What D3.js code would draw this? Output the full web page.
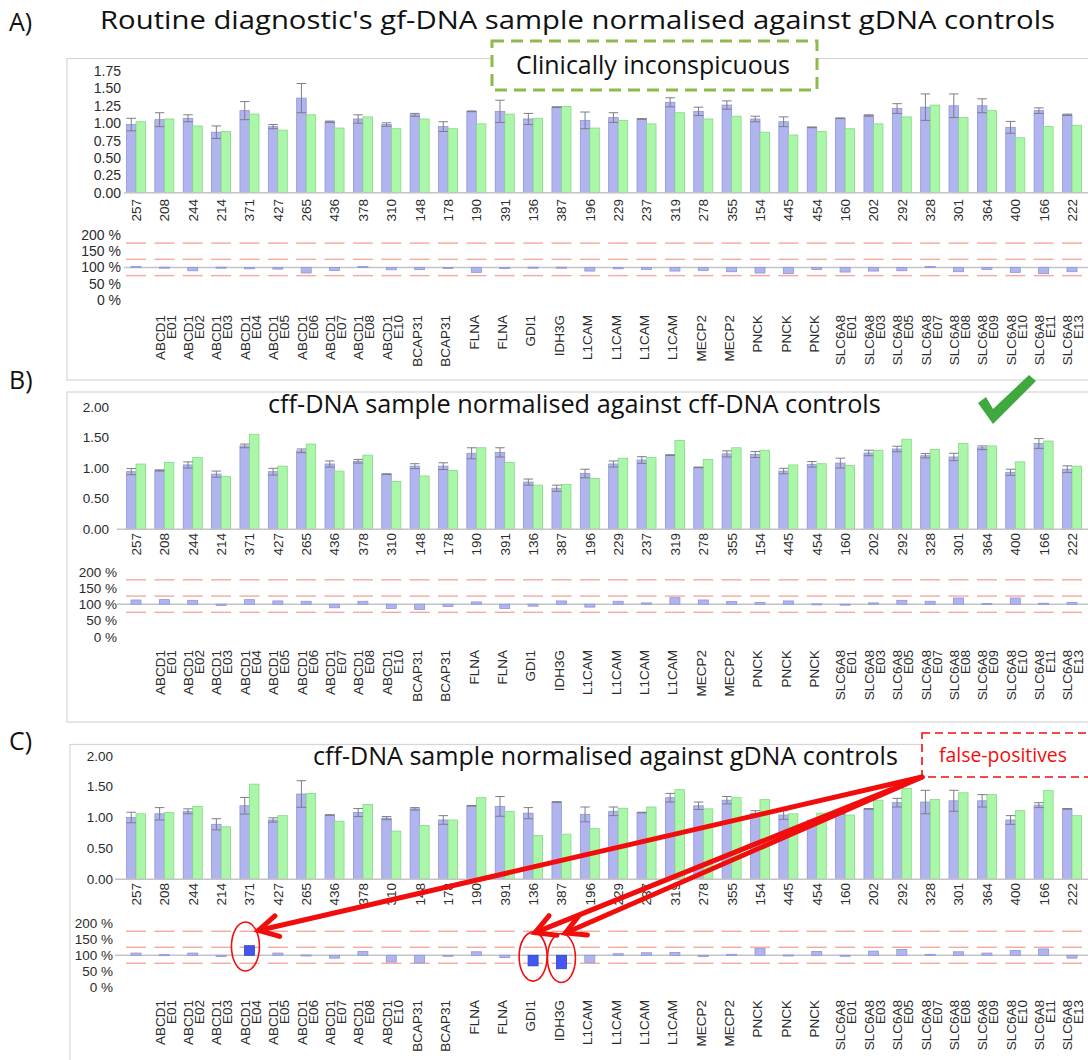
<!DOCTYPE html>
<html>
<head>
<meta charset="utf-8">
<script src="https://cdn.jsdelivr.net/npm/d3@7"></script>
<style>
  html, body { margin: 0; padding: 0; background: #fff; }
  svg { display: block; }
</style>
</head>
<body>
<svg id="chart" width="1088" height="1060"></svg>
<script>
// ---- probe identifiers and gene/exon names ----
const categories = ["257","208","244","214","371","427","265","436","378","310","148","178","190","391","136","387","196",
  "229","237","319","278","355","154","445","454","160","202","292","328","301","364","400","166","222"];
const geneLabels = ["",
  "ABCD1\nE01","ABCD1\nE02","ABCD1\nE03","ABCD1\nE04","ABCD1\nE05","ABCD1\nE06","ABCD1\nE07","ABCD1\nE08","ABCD1\nE10",
  "BCAP31","BCAP31","FLNA","FLNA","GDI1","IDH3G","L1CAM","L1CAM","L1CAM","L1CAM","MECP2","MECP2","PNCK","PNCK","PNCK",
  "SLC6A8\nE01","SLC6A8\nE03","SLC6A8\nE05","SLC6A8\nE07","SLC6A8\nE08","SLC6A8\nE09","SLC6A8\nE10","SLC6A8\nE11","SLC6A8\nE13"];

// ---- A) gf-DNA sample vs gDNA controls ----
const aReference = [0.98,1.05,1.07,0.87,1.18,0.95,1.36,1.02,1.06,0.98,1.12,0.95,1.17,1.17,1.06,1.23,1.04,
  1.08,1.06,1.30,1.17,1.26,1.06,1.02,0.94,1.07,1.11,1.21,1.23,1.25,1.25,0.94,1.18,1.12];
const aReferenceSd = [0.09,0.10,0.05,0.09,0.13,0.03,0.21,0.01,0.06,0.025,0.02,0.07,0.005,0.16,0.08,0.005,0.12,
  0.07,0.005,0.065,0.06,0.06,0.04,0.07,0.005,0.005,0.01,0.07,0.19,0.17,0.10,0.085,0.04,0.01];
const aSample = [1.02,1.06,0.96,0.88,1.13,0.90,1.12,0.93,1.09,0.92,1.06,0.92,0.99,1.13,1.07,1.24,0.93,
  1.04,0.99,1.15,1.06,1.10,0.87,0.83,0.88,0.92,0.99,1.09,1.26,1.08,1.18,0.79,0.95,0.97];
const aRatio = [103,101,90,101,96,95,83,91,103,93,94,97,85,97,101,101,89,
  96,94,89,91,87,83,81,94,86,89,90,103,87,94,85,81,87];

// ---- B) cff-DNA sample vs cff-DNA controls ----
const bReference = [0.94,0.96,1.05,0.90,1.36,0.94,1.28,1.065,1.11,0.90,1.03,1.03,1.24,1.255,0.77,0.67,0.91,
  1.065,1.13,1.21,1.01,1.23,1.22,0.95,1.06,1.08,1.245,1.31,1.20,1.18,1.33,0.93,1.40,0.98];
const bReferenceSd = [0.05,0.01,0.05,0.05,0.03,0.055,0.03,0.05,0.03,0.005,0.04,0.055,0.09,0.075,0.05,0.05,0.07,
  0.05,0.055,0.005,0.005,0.05,0.05,0.045,0.045,0.08,0.045,0.045,0.035,0.06,0.03,0.05,0.08,0.055];
const bSample = [1.065,1.09,1.17,0.86,1.55,1.03,1.39,0.95,1.21,0.78,0.87,0.96,1.33,1.09,0.72,0.73,0.83,
  1.16,1.17,1.45,1.14,1.33,1.29,1.05,1.07,1.04,1.29,1.47,1.30,1.40,1.36,1.10,1.44,1.03];
const bRatio = [113,114,112,96,114,110,109,89,109,87,84,93,107,87,94,110,91,
  109,104,120,113,108,105,110,101,97,104,112,109,119,102,119,103,105];

// ---- C) cff-DNA sample vs gDNA controls ----
const cReference = [1.00,1.06,1.10,0.89,1.19,0.96,1.38,1.04,1.08,0.99,1.14,0.96,1.19,1.18,1.07,1.25,1.05,
  1.10,1.08,1.32,1.19,1.28,1.07,1.04,0.95,1.06,1.14,1.24,1.25,1.27,1.27,0.96,1.20,1.14];
const cReferenceSd = [0.085,0.10,0.04,0.09,0.135,0.035,0.215,0.005,0.065,0.025,0.02,0.07,0.005,0.16,0.09,0.005,0.12,
  0.07,0.005,0.07,0.06,0.06,0.04,0.07,0.005,0.005,0.005,0.07,0.19,0.17,0.10,0.07,0.04,0.005];
const cSample = [1.06,1.08,1.18,0.85,1.54,1.03,1.39,0.94,1.21,0.78,0.87,0.96,1.32,1.10,0.71,0.73,0.82,
  1.15,1.17,1.45,1.14,1.32,1.29,1.06,1.07,1.04,1.28,1.47,1.29,1.40,1.37,1.11,1.44,1.03];
const cRatio = [107,102,107,96,130,107,101,91,112,79,76,100,111,93,67,58,78,
  105,108,109,96,103,121,101,112,97,113,118,103,111,107,115,120,91];
const cFlagged = ["371","136","387"];

const ratioTicks = [0, 50, 100, 150, 200];
const ratioLimits = [75, 125, 175];

// ---- styling ----
const COL = {
  refFill: "#b1b5ef", refStroke: "#8f94d9",
  smpFill: "#abf7a9", smpStroke: "#86d886",
  err: "#7d7d86", axis: "#c4c4c4", text: "#2b2b2b",
  limit: "#f7a79c", flagged: "#4456f2", flaggedStroke: "#2f3fc6",
  box: "#d6d6d6", red: "#f20d0d"
};
const NUM_FONT = "'Liberation Sans', Arial, sans-serif";
const TITLE_FONT = "'Open Sans', 'Noto Sans', sans-serif";

const svg = d3.select("#chart");

const x = d3.scalePoint().domain(categories).range([136, 1072]);
const half = 9.5;

// scale a text's font so that it spans a given width
function fitWidth(sel, width) {
  const w = sel.node().getComputedTextLength();
  const fs = parseFloat(sel.attr("font-size"));
  sel.attr("font-size", fs * width / w);
  return sel;
}

// one rotated (bottom-to-top) label whose top end sits at (cx, top)
function vLabel(g, cx, top, txt, size) {
  return g.append("text")
    .attr("transform", `translate(${cx},${top}) rotate(-90)`)
    .attr("text-anchor", "end").attr("dy", "0.36em")
    .attr("font-family", NUM_FONT).attr("font-size", size).attr("fill", COL.text)
    .text(txt);
}

const panels = [
  { tag: "A)", tagY: 31, title: "Routine diagnostic's gf-DNA sample normalised against gDNA controls",
    titleX0: 100, titleX1: 1055, titleY: 28.5, titleSize: 25.5,
    ref: aReference, sd: aReferenceSd, smp: aSample, ratio: aRatio, flagged: [],
    box: [67, 58.5, 1100, 380], yMax: 1.75, yTicks: [0,0.25,0.5,0.75,1,1.25,1.5,1.75],
    y0: 192.7, y1: 71, tickRight: 121, tickFont: 14, axisX0: 124,
    r0: 300, r200: 235, rRight: 121, catTop: 199, geneTop: 315 },
  { tag: "B)", tagY: 389, title: "cff-DNA sample normalised against cff-DNA controls",
    titleX0: 268, titleX1: 881, titleY: 413,
    ref: bReference, sd: bReferenceSd, smp: bSample, ratio: bRatio, flagged: [],
    box: [67, 392, 1100, 722], yMax: 2, yTicks: [0,0.5,1,1.5,2],
    y0: 529.3, y1: 406.7, tickRight: 109, tickFont: 13.5, axisX0: 117,
    r0: 636.7, r200: 571.7, rRight: 117, catTop: 533, geneTop: 650 },
  { tag: "C)", tagY: 750, title: "cff-DNA sample normalised against gDNA controls",
    titleX0: 313, titleX1: 898, titleY: 765,
    ref: cReference, sd: cReferenceSd, smp: cSample, ratio: cRatio, flagged: cFlagged,
    box: [70, 744.5, 1100, 1075], yMax: 2, yTicks: [0,0.5,1,1.5,2],
    y0: 879.3, y1: 755.7, tickRight: 113, tickFont: 13.5, axisX0: 115,
    r0: 987.3, r200: 923.3, rRight: 113, catTop: 883, geneTop: 1000 }
];

panels.forEach(p => {
  const g = svg.append("g");
  const [bx0, by0, bx1, by1] = p.box;
  g.append("rect").attr("x", bx0).attr("y", by0).attr("width", bx1 - bx0).attr("height", by1 - by0)
    .attr("fill", "none").attr("stroke", COL.box).attr("stroke-width", 1.2);

  // panel tag
  svg.append("text").attr("x", 9).attr("y", p.tagY).attr("font-family", TITLE_FONT)
    .attr("font-size", 25).attr("fill", "#111").text(p.tag);

  const y = d3.scaleLinear().domain([0, p.yMax]).range([p.y0, p.y1]);
  const yr = d3.scaleLinear().domain([0, 200]).range([p.r0, p.r200]);
  const data = categories.map((c, i) => ({ c, i, ref: p.ref[i], sd: p.sd[i], smp: p.smp[i], ratio: p.ratio[i], gene: geneLabels[i] }));

  // value axis labels
  const yAxis = d3.axisLeft(y).tickValues(p.yTicks).tickSize(0).tickPadding(0).tickFormat(d3.format(".2f"));
  const ya = g.append("g").attr("transform", `translate(${p.tickRight},0)`).call(yAxis);
  ya.select(".domain").remove();
  ya.selectAll("text").attr("font-family", NUM_FONT).attr("font-size", p.tickFont).attr("fill", COL.text);

  // bars
  g.selectAll(".ref").data(data).join("rect")
    .attr("x", d => x(d.c) - half).attr("width", half)
    .attr("y", d => y(d.ref)).attr("height", d => y(0) - y(d.ref))
    .attr("fill", COL.refFill).attr("stroke", COL.refStroke).attr("stroke-width", 0.8);
  g.selectAll(".smp").data(data).join("rect")
    .attr("x", d => x(d.c)).attr("width", half)
    .attr("y", d => y(d.smp)).attr("height", d => y(0) - y(d.smp))
    .attr("fill", COL.smpFill).attr("stroke", COL.smpStroke).attr("stroke-width", 0.8);

  // error bars on reference bars
  const eb = g.selectAll(".eb").data(data).join("g").attr("stroke", COL.err).attr("stroke-width", 1);
  eb.append("line").attr("x1", d => x(d.c) - half / 2).attr("x2", d => x(d.c) - half / 2)
    .attr("y1", d => y(d.ref + d.sd)).attr("y2", d => y(d.ref - d.sd));
  eb.append("line").attr("x1", d => x(d.c) - half).attr("x2", d => x(d.c))
    .attr("y1", d => y(d.ref + d.sd)).attr("y2", d => y(d.ref + d.sd));
  eb.append("line").attr("x1", d => x(d.c) - half).attr("x2", d => x(d.c))
    .attr("y1", d => y(d.ref - d.sd)).attr("y2", d => y(d.ref - d.sd));

  // zero line
  g.append("line").attr("x1", p.axisX0).attr("x2", 1088).attr("y1", y(0)).attr("y2", y(0))
    .attr("stroke", COL.axis).attr("stroke-width", 1.5);

  // probe labels
  data.forEach(d => vLabel(g, x(d.c), p.catTop, d.c, 13.5));

  // ratio panel
  const ra = d3.axisLeft(yr).tickValues(ratioTicks).tickSize(0).tickPadding(0).tickFormat(d => d + " %");
  const rag = g.append("g").attr("transform", `translate(${p.rRight},0)`).call(ra);
  rag.select(".domain").remove();
  rag.selectAll("text").attr("font-family", NUM_FONT).attr("font-size", p.tickFont).attr("fill", COL.text);

  ratioLimits.forEach(l => {
    g.selectAll(null).data(data).join("line")
      .attr("x1", d => x(d.c) - 10).attr("x2", d => x(d.c) + 10)
      .attr("y1", yr(l)).attr("y2", yr(l))
      .attr("stroke", COL.limit).attr("stroke-width", 1.4);
  });
  g.append("line").attr("x1", p.axisX0).attr("x2", 1088).attr("y1", yr(100)).attr("y2", yr(100))
    .attr("stroke", COL.axis).attr("stroke-width", 1.5);

  g.selectAll(".ratio").data(data).join("rect")
    .attr("x", d => x(d.c) - 5).attr("width", 10)
    .attr("y", d => Math.min(yr(d.ratio), yr(100)))
    .attr("height", d => Math.max(1, Math.abs(yr(d.ratio) - yr(100))))
    .attr("fill", d => p.flagged.includes(d.c) ? COL.flagged : COL.refFill)
    .attr("stroke", d => p.flagged.includes(d.c) ? COL.flaggedStroke : COL.refStroke)
    .attr("stroke-width", 0.8);

  // gene / exon labels (exon number on a second line to the right)
  data.filter(d => d.gene).forEach(d => {
    const lines = d.gene.split("\n");
    lines.forEach((ln, k) => {
      const off = lines.length === 1 ? -2.5 : (k === 0 ? -4.5 : 6.5);
      vLabel(g, x(d.c) + off, p.geneTop, ln, 13.5);
    });
  });

  // panel title
  const tt = svg.append("text").attr("x", p.titleX0).attr("y", p.titleY)
    .attr("font-family", TITLE_FONT).attr("fill", "#111").text(p.title);
  if (p.titleSize) {
    tt.attr("font-size", p.titleSize)
      .attr("textLength", p.titleX1 - p.titleX0).attr("lengthAdjust", "spacingAndGlyphs");
  } else {
    tt.attr("font-size", 26);
    fitWidth(tt, p.titleX1 - p.titleX0);
  }

  p.y = y; p.yr = yr; p.data = data;
});

// ---- annotations ----
// A: clinically inconspicuous
svg.append("rect").attr("x", 492).attr("y", 41).attr("width", 325).attr("height", 49)
  .attr("fill", "#fff").attr("stroke", "#8dba4c").attr("stroke-width", 3).attr("stroke-dasharray", "12,7");
fitWidth(svg.append("text").attr("x", 516).attr("y", 74).attr("font-family", TITLE_FONT)
  .attr("font-size", 20).attr("fill", "#111").text("Clinically inconspicuous"), 274);

// B: tick mark
svg.append("path")
  .attr("d", "M978,403 L986,397 L993,409 L1029,375 L1036,381 L993,424 Z")
  .attr("fill", "#3fa93f");

// C: false-positive callout
const pc = panels[2];
svg.append("rect").attr("x", 922).attr("y", 733).attr("width", 180).attr("height", 44)
  .attr("fill", "#fff").attr("stroke", COL.red).attr("stroke-width", 1.6).attr("stroke-dasharray", "8,5");
const fp = svg.append("text").attr("x", 1003).attr("y", 762).attr("text-anchor", "middle")
  .attr("font-family", TITLE_FONT).attr("font-size", 17).attr("fill", COL.red).text("false-positives");
fitWidth(fp, 128);

const start = [922, 777];
const tipOffsets = { "371": [13, -16], "136": [2, -24], "387": [4, -25] };
const ann = svg.append("g");
pc.data.filter(d => cFlagged.includes(d.c)).forEach(d => {
  const cx = x(d.c) - (d.c === "371" ? 4 : 0);
  const cy = (pc.yr(100) + pc.yr(d.ratio)) / 2 - 4;
  ann.append("ellipse").attr("cx", cx).attr("cy", cy).attr("rx", 14).attr("ry", 24.5)
    .attr("fill", "none").attr("stroke", COL.red).attr("stroke-width", 1.6);
  const tip = [cx + tipOffsets[d.c][0], cy + tipOffsets[d.c][1]];
  ann.append("line").attr("x1", start[0]).attr("y1", start[1]).attr("x2", tip[0]).attr("y2", tip[1])
    .attr("stroke", COL.red).attr("stroke-width", 5).attr("stroke-linecap", "round");
  const ang = Math.atan2(tip[1] - start[1], tip[0] - start[0]);
  const L = 22, a = 0.5;
  const p1 = [tip[0] - L * Math.cos(ang - a), tip[1] - L * Math.sin(ang - a)];
  const p2 = [tip[0] - L * Math.cos(ang + a), tip[1] - L * Math.sin(ang + a)];
  ann.append("path").attr("d", `M${p1}L${tip}L${p2}`)
    .attr("fill", "none").attr("stroke", COL.red).attr("stroke-width", 5)
    .attr("stroke-linecap", "round").attr("stroke-linejoin", "miter");
});
</script>
</body>
</html>
